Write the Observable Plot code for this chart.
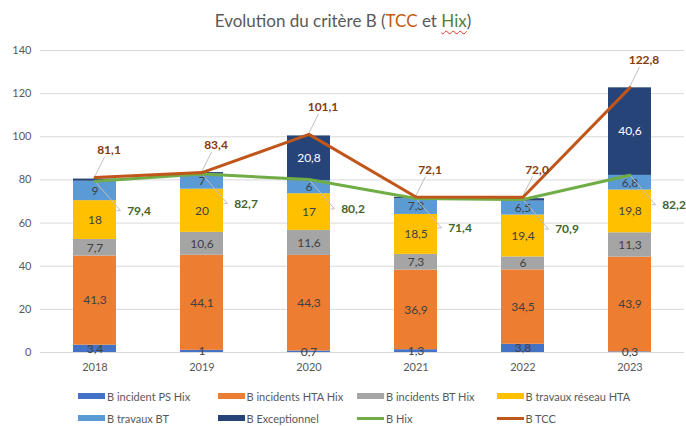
<!DOCTYPE html>
<html><head><meta charset="utf-8">
<script src="https://cdn.jsdelivr.net/npm/d3@7"></script>
<script src="https://cdn.jsdelivr.net/npm/@observablehq/plot@0.6"></script>
<style>
body{margin:0;background:#fff;font-family:Lato,"Open Sans",sans-serif;}
#wrap{width:686px;height:426px;position:relative;overflow:hidden;}
#title{height:40px;line-height:42px;text-align:center;font-size:17px;color:#595959;}
#title .tcc{color:#C55A11;}
#title .hix{color:#548235;text-decoration:underline wavy #e03030;text-decoration-thickness:1px;text-underline-offset:3px;}
#legend{position:relative;height:44px;font-size:11px;color:#595959;}
.li{position:absolute;display:flex;align-items:center;white-space:nowrap;height:14px;}
.sw{width:27px;height:6px;margin-right:2px;}
.ln{width:27px;height:3px;margin-right:2px;}
</style></head>
<body><div id="wrap">
<div id="title">Evolution du critère B (<span class="tcc">TCC</span> et <span class="hix">Hix</span>)</div>
<div id="chart"></div>
<div id="legend"></div>
</div>
<script>
const years = ["2018","2019","2020","2021","2022","2023"];
const seriesNames = ["B incident PS Hix","B incidents HTA Hix","B incidents BT Hix","B travaux réseau HTA","B travaux BT","B Exceptionnel"];
const psHix = [3.4, 1, 0.7, 1.3, 3.8, 0.3];
const htaHix = [41.3, 44.1, 44.3, 36.9, 34.5, 43.9];
const btHix = [7.7, 10.6, 11.6, 7.3, 6, 11.3];
const travauxHTA = [18, 20, 17, 18.5, 19.4, 19.8];
const travauxBT = [9, 7, 6, 7.3, 6.5, 6.8];
const exceptionnel = [1, 0.7, 20.8, 0.6, 1.1, 40.6];
const bHix = [79.4, 82.7, 80.2, 71.4, 70.9, 82.2];
const bTCC = [81.1, 83.4, 101.1, 72.1, 72.0, 122.8];
const yTicks = [0,20,40,60,80,100,120,140];

const colors = ["#4472C4","#ED7D31","#A5A5A5","#FFC000","#5B9BD5","#264478"];
const hixColor = "#70AD47", tccColor = "#C0561A";

const seriesValues = [psHix, htaHix, btHix, travauxHTA, travauxBT, exceptionnel];
const stacked = [];
years.forEach((y, i) => seriesNames.forEach((s, j) => stacked.push({year: y, series: s, value: seriesValues[j][i]})));
const lines = years.map((y, i) => ({year: y, hix: bHix[i], tcc: bTCC[i]}));
const fr = v => String(v).replace(".", ",");
const fr1 = v => v.toFixed(1).replace(".", ",");
const isSmallExc = d => d.series === "B Exceptionnel" && d.value < 5;

const HIX_DX = 44, HIX_DY = 30, TCC_DX = 14, TCC_DY = -27;

function leaders(key, dx, dy) {
  return (index, scales) => {
    const g = d3.create("svg:g");
    const bw = scales.x.bandwidth ? scales.x.bandwidth() : 0;
    lines.forEach(d => {
      const x = scales.x(d.year) + bw / 2, y = scales.y(d[key]);
      if (key === "hix") {
        g.append("polyline").attr("points", `${x},${y} ${x + dx - 18},${y + dy} ${x + dx - 22},${y + dy}`)
          .attr("fill", "none").attr("stroke", "#BFBFBF").attr("stroke-width", 1);
      } else {
        g.append("line").attr("x1", x).attr("y1", y).attr("x2", x + dx - 4).attr("y2", y + dy + 7)
          .attr("stroke", "#BFBFBF").attr("stroke-width", 1);
      }
    });
    return g.node();
  };
}

const plot = Plot.plot({
  width: 686, height: 342,
  marginLeft: 40, marginRight: 2, marginTop: 10, marginBottom: 30,
  style: {fontFamily: "Lato, 'Open Sans', sans-serif", fontSize: "11px", color: "#595959", background: "transparent"},
  x: {domain: years, paddingInner: 0.6, paddingOuter: 0.3, label: null, tickSize: 0, tickPadding: 11},
  y: {domain: [0, 140], ticks: yTicks, label: null, tickSize: 0, tickPadding: 9},
  color: {domain: seriesNames, range: colors},
  marks: [
    Plot.gridY(yTicks, {stroke: "#D9D9D9", strokeOpacity: 1}),
    Plot.barY(stacked, {x: "year", y: "value", fill: "series"}),
    Plot.text(stacked.filter(d => d.series !== "B Exceptionnel"), Plot.stackY({x: "year", y: "value", z: "series", text: d => fr(d.value), fill: "#404040", fontSize: 12})),
    Plot.text(stacked, Plot.stackY({x: "year", y: "value", z: "series", text: d => d.series === "B Exceptionnel" && !isSmallExc(d) ? fr(d.value) : "", fill: "white", fontSize: 12})),
    Plot.text(stacked, Plot.stackY({x: "year", y: "value", z: "series", text: d => isSmallExc(d) ? fr(d.value) : "", fill: "white", fontSize: 9, dy: -6})),
    leaders("hix", HIX_DX, HIX_DY),
    leaders("tcc", TCC_DX, TCC_DY),
    Plot.line(lines, {x: "year", y: "hix", stroke: hixColor, strokeWidth: 3}),
    Plot.line(lines, {x: "year", y: "tcc", stroke: tccColor, strokeWidth: 3}),
    Plot.text(lines, {x: "year", y: "hix", text: d => fr1(d.hix), dx: HIX_DX, dy: HIX_DY, fill: "#44642A", fontWeight: "bold", fontSize: 12}),
    Plot.text(lines, {x: "year", y: "tcc", text: d => fr1(d.tcc), dx: TCC_DX, dy: TCC_DY, fill: "#843C0C", fontWeight: "bold", fontSize: 12})
  ]
});
document.getElementById("chart").appendChild(plot);

const legendItems = [
  {name: seriesNames[0], color: colors[0], type: "sw"},
  {name: seriesNames[1], color: colors[1], type: "sw"},
  {name: seriesNames[2], color: colors[2], type: "sw"},
  {name: seriesNames[3], color: colors[3], type: "sw"},
  {name: seriesNames[4], color: colors[4], type: "sw"},
  {name: seriesNames[5], color: colors[5], type: "sw"},
  {name: "B Hix", color: hixColor, type: "ln"},
  {name: "B TCC", color: tccColor, type: "ln"}
];
const leg = document.getElementById("legend");
legendItems.forEach((it, i) => {
  const el = document.createElement("div");
  el.className = "li";
  el.style.left = (78 + (i % 4) * 139.5) + "px";
  el.style.top = (7 + Math.floor(i / 4) * 22) + "px";
  el.innerHTML = `<div class="${it.type}" style="background:${it.color}"></div><span>${it.name}</span>`;
  leg.appendChild(el);
});
</script>
</body></html>
